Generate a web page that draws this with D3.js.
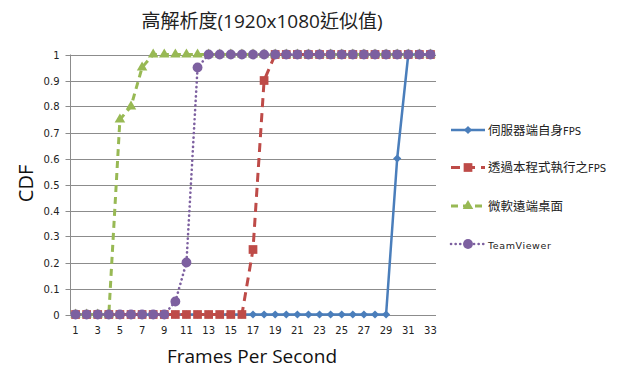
<!DOCTYPE html>
<html>
<head>
<meta charset="utf-8">
<script src="https://cdn.jsdelivr.net/npm/d3@7/dist/d3.min.js"></script>
<style>
  html, body { margin: 0; padding: 0; background: #fff; }
  svg { display: block; }
</style>
</head>
<body>
<svg id="chart" width="620" height="369"></svg>
<script>
// Frames per second (category axis 1..33)
const fps = d3.range(1, 34);
const xTickLabels = fps.filter(d => d % 2 === 1);
const yTicks = d3.range(0, 11).map(d => d / 10);

// Cumulative distribution for each remote-display method
const serverFps   = [0,0,0,0,0,0,0,0,0,0,0,0,0,0,0,0,0,0,0,0,0,0,0,0,0,0,0,0,0,0.6,1,1,1];
const programFps  = [0,0,0,0,0,0,0,0,0,0,0,0,0,0,0,0,0.25,0.9,1,1,1,1,1,1,1,1,1,1,1,1,1,1,1];
const msRemote    = [0,0,0,0,0.75,0.8,0.95,1,1,1,1,1,1,1,1,1,1,1,1,1,1,1,1,1,1,1,1,1,1,1,1,1,1];
const teamViewer  = [0,0,0,0,0,0,0,0,0,0.05,0.2,0.95,1,1,1,1,1,1,1,1,1,1,1,1,1,1,1,1,1,1,1,1,1];

const seriesNames = ["伺服器端自身", "透過本程式執行之", "微軟遠端桌面", "TeamViewer"];
const seriesSuffix = ["FPS", "FPS", "", ""];

const series = [
  { name: seriesNames[0], suffix: seriesSuffix[0], values: serverFps,  color: "#4A7EBB", dash: null,      width: 2.5, marker: "diamond" },
  { name: seriesNames[1], suffix: seriesSuffix[1], values: programFps, color: "#BE4B48", dash: "9,6",     width: 3,   marker: "square" },
  { name: seriesNames[2], suffix: seriesSuffix[2], values: msRemote,   color: "#98B954", dash: "7,5",     width: 3,   marker: "triangle" },
  { name: seriesNames[3], suffix: seriesSuffix[3], values: teamViewer, color: "#7D60A0", dash: "0.1,4.5", width: 2.6, marker: "circle" }
];

const svg = d3.select("#chart");
const plot = { left: 70, right: 436, top: 54.5, bottom: 314.5 };

const x = d3.scaleBand().domain(fps).range([plot.left, plot.right]);
const y = d3.scaleLinear().domain([0, 1]).range([plot.bottom, plot.top]);
const cx = d => x(d) + x.bandwidth() / 2;

// Title
svg.append("text")
  .attr("x", 262).attr("y", 28)
  .attr("text-anchor", "middle")
  .attr("font-family", "'Open Sans', 'Noto Sans CJK TC', sans-serif")
  .attr("font-size", 19)
  .attr("fill", "#222")
  .text("高解析度(1920x1080近似值)");

// Horizontal gridlines
svg.append("g")
  .selectAll("line")
  .data(yTicks)
  .join("line")
  .attr("x1", plot.left).attr("x2", plot.right)
  .attr("y1", d => Math.round(y(d)) + 0.5).attr("y2", d => Math.round(y(d)) + 0.5)
  .attr("stroke", "#8c8c8c").attr("stroke-width", 1);

// Y axis
const yAxis = d3.axisLeft(y)
  .tickValues(yTicks)
  .tickSize(5)
  .tickPadding(6)
  .tickFormat(d => d === 0 ? "0" : d === 1 ? "1" : d3.format(".1f")(d));
const gy = svg.append("g").attr("transform", `translate(${plot.left + 0.5},0)`).call(yAxis);
gy.select(".domain").attr("stroke", "#8c8c8c").attr("d", `M0,${plot.top}V${plot.bottom}`);
gy.selectAll(".tick line").attr("stroke", "#8c8c8c");
gy.selectAll(".tick").attr("transform", d => `translate(0,${Math.round(y(d)) + 0.5})`);
gy.selectAll(".tick text")
  .attr("font-family", "'DejaVu Sans', sans-serif")
  .attr("font-size", 10)
  .attr("fill", "#222");

// X axis labels (every other category)
const xAxis = d3.axisBottom(x).tickValues(xTickLabels).tickSize(0).tickPadding(12);
const gx = svg.append("g").attr("transform", `translate(0,${plot.bottom})`).call(xAxis);
gx.select(".domain").remove();
gx.selectAll(".tick text")
  .attr("font-family", "'DejaVu Sans', sans-serif")
  .attr("font-size", 10)
  .attr("fill", "#222");

// Axis titles
svg.append("text")
  .attr("x", 252).attr("y", 363)
  .attr("text-anchor", "middle")
  .attr("font-family", "'Open Sans', sans-serif")
  .attr("font-size", 19)
  .attr("fill", "#111")
  .text("Frames Per Second");

svg.append("text")
  .attr("transform", `translate(32.5,${(plot.top + plot.bottom) / 2 - 1}) rotate(-90)`)
  .attr("text-anchor", "middle")
  .attr("font-family", "'Open Sans', sans-serif")
  .attr("font-size", 20)
  .attr("fill", "#111")
  .text("CDF");

// Marker shapes (diamond is a square turned 45 degrees)
const symbolFor = {
  diamond: d3.symbol().type(d3.symbolSquare).size(34),
  square: d3.symbol().type(d3.symbolSquare).size(76),
  triangle: d3.symbol().type(d3.symbolTriangle).size(48),
  circle: d3.symbol().type(d3.symbolCircle).size(76)
};
const rotateFor = { diamond: 45, square: 0, triangle: 0, circle: 0 };

const line = d3.line().x((d, i) => cx(fps[i])).y(d => y(d));

series.forEach(s => {
  const g = svg.append("g");
  g.append("path")
    .datum(s.values)
    .attr("d", line)
    .attr("fill", "none")
    .attr("stroke", s.color)
    .attr("stroke-width", s.width)
    .attr("stroke-dasharray", s.dash)
    .attr("stroke-linecap", s.marker === "circle" ? "round" : "butt")
    .attr("stroke-linejoin", "round");
  g.selectAll("path.mark")
    .data(s.values)
    .join("path")
    .attr("class", "mark")
    .attr("d", symbolFor[s.marker])
    .attr("transform", (d, i) => `translate(${cx(fps[i])},${y(d)}) rotate(${rotateFor[s.marker]})`)
    .attr("fill", s.color);
});

// Legend
const legend = svg.append("g");
const legendY = [130, 167.5, 206, 244];
series.forEach((s, i) => {
  const ly = legendY[i];
  const g = legend.append("g").attr("transform", `translate(0,${ly})`);
  g.append("line")
    .attr("x1", 451).attr("x2", 485).attr("y1", 0).attr("y2", 0)
    .attr("stroke", s.color)
    .attr("stroke-width", s.width)
    .attr("stroke-dasharray", s.dash)
    .attr("stroke-linecap", s.marker === "circle" ? "round" : "butt");
  g.append("path")
    .attr("d", symbolFor[s.marker])
    .attr("transform", `translate(468,0) rotate(${rotateFor[s.marker]})`)
    .attr("fill", s.color);
  const isLatin = /^[A-Za-z]/.test(s.name);
  const t = g.append("text")
    .attr("x", 488).attr("y", 4.5)
    .attr("fill", "#222");
  t.append("tspan")
    .attr("font-family", isLatin ? "'DejaVu Sans', sans-serif" : "'Noto Sans CJK TC', sans-serif")
    .attr("font-size", isLatin ? 9.5 : 12.5)
    .attr("letter-spacing", isLatin ? 0.6 : 0)
    .text(s.name);
  if (s.suffix) {
    t.append("tspan")
      .attr("font-family", "'DejaVu Sans', sans-serif")
      .attr("font-size", 10)
      .text(s.suffix);
  }
});
</script>
</body>
</html>
